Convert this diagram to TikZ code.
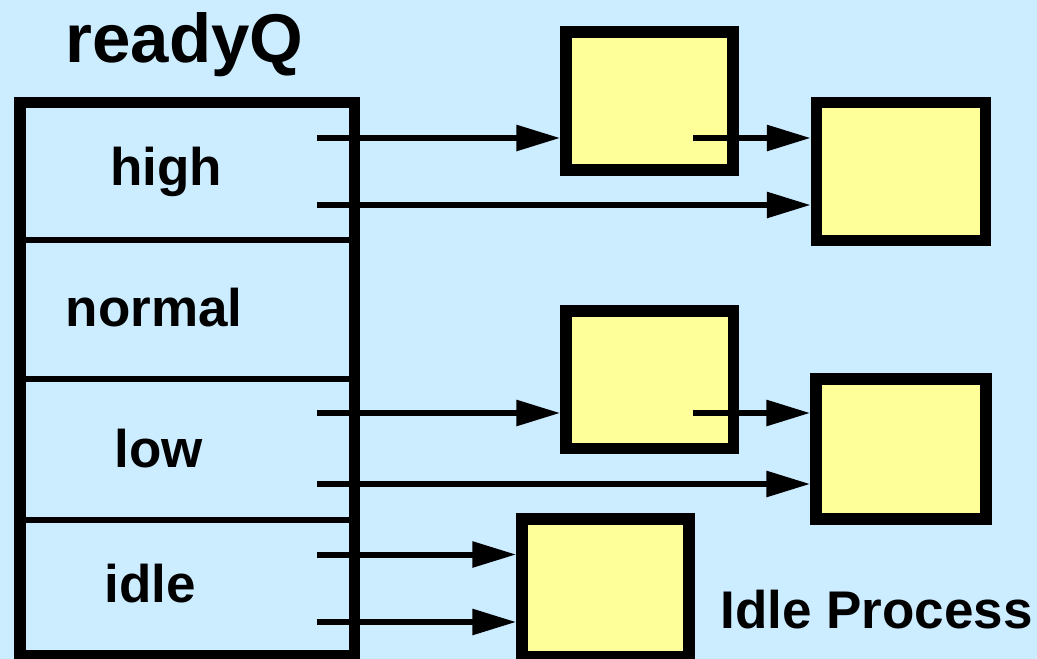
\documentclass[tikz,border=0pt]{standalone}
\usepackage{fontspec}
\setmainfont{Liberation Sans}
\usetikzlibrary{arrows.meta}
\definecolor{bgblue}{HTML}{CCECFF}
\definecolor{procyellow}{HTML}{FFFF99}
\tikzset{
  procbox/.style={draw=black, fill=procyellow, line width=11.5pt, rectangle, inner sep=0pt},
  queuebox/.style={draw=black, line width=11.5pt, rectangle, inner sep=0pt},
  divider/.style={draw=black, line width=6pt},
  link/.style={draw=black, line width=6pt, -{Triangle[length=44pt, width=25pt]}},
  lbl/.style={font=\bfseries\fontsize{53}{60}\selectfont, anchor=base, inner sep=0pt},
  title/.style={font=\bfseries\fontsize{69}{76}\selectfont, anchor=base, inner sep=0pt},
}
\begin{document}
\begin{tikzpicture}[x=1pt, y=-1pt]
\useasboundingbox (0,0) rectangle (1037,659);
\fill[bgblue] (0,0) rectangle (1037,659);

% ready queue
\node[queuebox, minimum width=334.5pt, minimum height=553.5pt] (q) at (187.25,379.25) {};
\draw[divider] (20,240) -- (354.5,240);
\draw[divider] (20,378.5) -- (354.5,378.5);
\draw[divider] (20,519.5) -- (354.5,519.5);

\node[title] (t) at (184.5,62) {readyQ};
\node[lbl] (lh) at (166,185) {high};
\node[lbl] (ln) at (154,326) {normal};
\node[lbl] (ll) at (159,467) {low};
\node[lbl] (li) at (150,602) {idle};
\node[lbl] (lp) at (876.5,628) {Idle Process};

% process boxes
\node[procbox, minimum width=167pt, minimum height=138pt] (A) at (649.5,101) {};
\node[procbox, minimum width=169pt, minimum height=138pt] (B) at (901,171.5) {};
\node[procbox, minimum width=167.5pt, minimum height=137.5pt] (C) at (649.75,379.75) {};
\node[procbox, minimum width=170pt, minimum height=140pt] (D) at (901,449) {};
\node[procbox, minimum width=167pt, minimum height=138pt] (E) at (605.5,588) {};

% arrow start points
\coordinate (h1) at (317,138);
\coordinate (h2) at (317,205);
\coordinate (a1) at (693,138);
\coordinate (l1) at (317,413);
\coordinate (l2) at (317,484);
\coordinate (c1) at (693,413);
\coordinate (i1) at (317,554.5);
\coordinate (i2) at (317,622);

\draw[link] (h1) -- (h1 -| A.west);
\draw[link] (a1) -- (a1 -| B.west);
\draw[link] (h2) -- (h2 -| B.west);
\draw[link] (l1) -- (l1 -| C.west);
\draw[link] (c1) -- (c1 -| D.west);
\draw[link] (l2) -- (l2 -| D.west);
\draw[link] (i1) -- (i1 -| E.west);
\draw[link] (i2) -- (i2 -| E.west);
\end{tikzpicture}
\end{document}
